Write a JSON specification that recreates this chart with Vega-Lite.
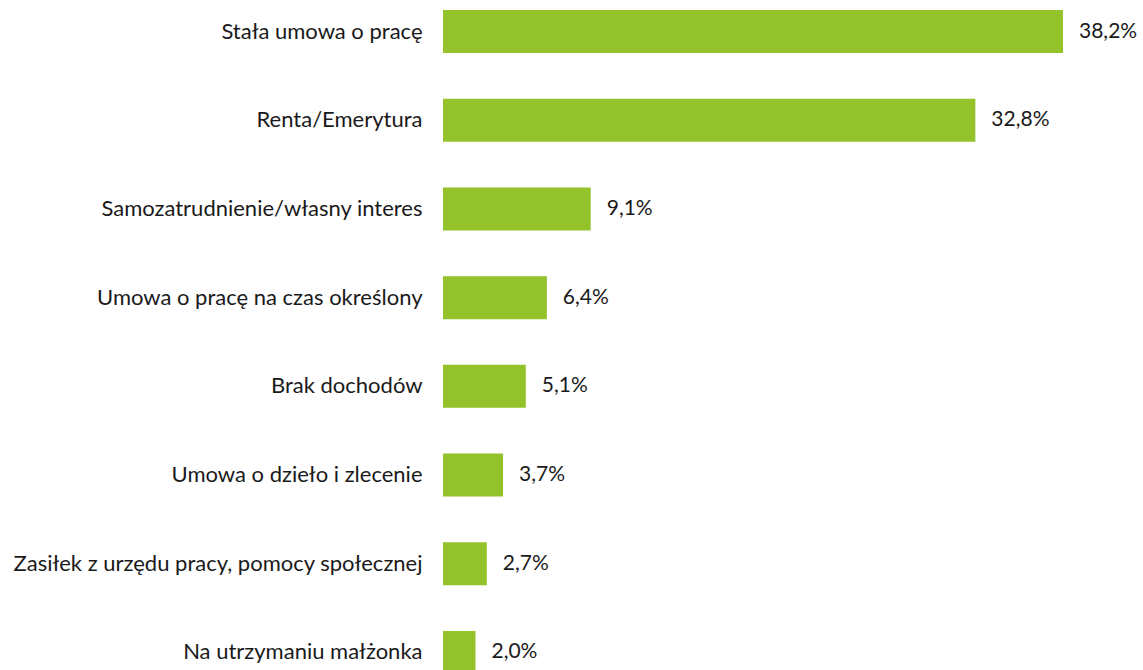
{
  "$schema": "https://vega.github.io/schema/vega-lite/v6.json",
  "autosize": "none",
  "width": 620,
  "height": 684,
  "padding": {"left": 443, "top": 0, "right": 80, "bottom": 0},
  "background": "white",
  "config": {"view": {"stroke": null}, "font": "Lato"},
  "data": {"values": [
    {"cat": "Stała umowa o pracę", "v": 38.2, "lab": "38,2%"},
    {"cat": "Renta/Emerytura", "v": 32.8, "lab": "32,8%"},
    {"cat": "Samozatrudnienie/własny interes", "v": 9.1, "lab": "9,1%"},
    {"cat": "Umowa o pracę na czas określony", "v": 6.4, "lab": "6,4%"},
    {"cat": "Brak dochodów", "v": 5.1, "lab": "5,1%"},
    {"cat": "Umowa o dzieło i zlecenie", "v": 3.7, "lab": "3,7%"},
    {"cat": "Zasiłek z urzędu pracy, pomocy społecznej", "v": 2.7, "lab": "2,7%"},
    {"cat": "Na utrzymaniu małżonka", "v": 2.0, "lab": "2,0%"}
  ]},
  "encoding": {
    "y": {"field": "cat", "type": "nominal", "sort": null,
      "scale": {"paddingInner": 0.515, "paddingOuter": 0.113},
      "axis": {"title": null, "domain": false, "ticks": false, "labelPadding": 21,
        "labelFontSize": 22, "labelColor": "#1a1a1a", "labelFont": "Lato", "labelLimit": 500}},
    "x": {"field": "v", "type": "quantitative",
      "scale": {"domain": [0, 38.2], "nice": false},
      "axis": null}
  },
  "layer": [
    {"mark": {"type": "bar", "color": "#93c22a"}},
    {"mark": {"type": "text", "align": "left", "dx": 16, "fontSize": 21, "color": "#1a1a1a", "font": "Lato"},
     "encoding": {"text": {"field": "lab"}}}
  ]
}
